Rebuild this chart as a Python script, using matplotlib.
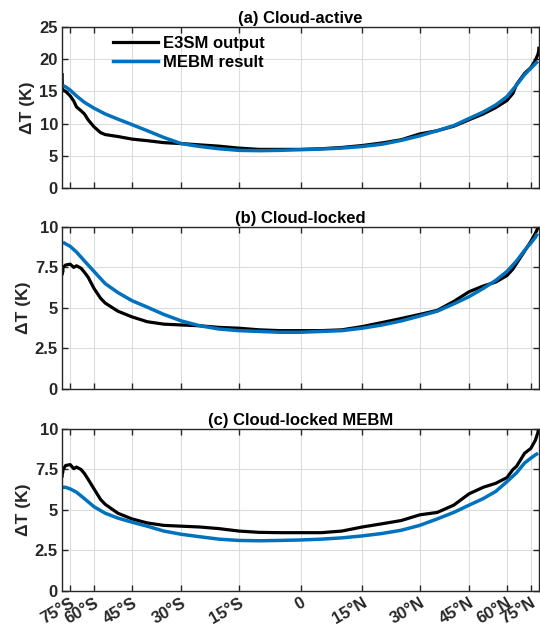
import numpy as np
import matplotlib
matplotlib.use("Agg")
import matplotlib.pyplot as plt

plt.rcParams['font.family'] = ['Liberation Sans', 'DejaVu Sans']
plt.rcParams['font.weight'] = 'bold'
plt.rcParams['font.size'] = 12

# latitudes (deg) of the sampled curves
lat_e3sm = [-89, -88, -86, -85, -80, -75, -72, -70, -67, -65, -63, -60, -57, -55,
            -50, -45, -40, -35, -30, -25, -20, -15, -10, -5, 0, 5, 10, 15, 20, 25,
            30, 35, 40, 45, 50, 55, 60, 63, 65, 70, 75, 80, 85, 88, 89]
lat_mebm = [-82, -80, -75, -70, -65, -60, -55, -50, -45, -40, -35, -30, -25, -20,
            -15, -10, -5, 0, 5, 10, 15, 20, 25, 30, 35, 40, 45, 50, 55, 60, 65, 70,
            75, 80, 82]

# (a) cloud-active
e3sm_a = [17.6, 16.0, 15.3, 15.2, 15.0, 14.3, 13.5, 12.6, 12.0, 11.5, 10.6, 9.5, 8.6, 8.3,
          8.0, 7.6, 7.35, 7.05, 6.9, 6.7, 6.5, 6.2, 6.0, 6.0, 6.0, 6.1, 6.3, 6.6, 7.0, 7.5,
          8.4, 8.9, 9.6, 10.6, 11.5, 12.5, 13.6, 14.7, 16.1, 17.8, 18.7, 19.8, 20.8, 21.4, 21.7]
mebm_a = [15.8, 15.7, 15.2, 14.3, 13.3, 12.4, 11.5, 10.7, 9.85, 8.9, 7.85, 6.9, 6.45, 6.1,
          5.85, 5.8, 5.85, 5.95, 6.05, 6.2, 6.45, 6.8, 7.4, 8.1, 8.9, 9.7, 10.8, 11.8, 12.9,
          14.2, 16.0, 17.6, 18.6, 19.3, 19.5]

# (b) cloud-locked
e3sm_b = [7.1, 7.4, 7.2, 7.5, 7.65, 7.7, 7.5, 7.6, 7.45, 7.2, 6.9, 6.2, 5.6, 5.3,
          4.8, 4.45, 4.15, 4.0, 3.95, 3.9, 3.8, 3.75, 3.65, 3.6, 3.6, 3.6, 3.65, 3.85, 4.1, 4.35,
          4.6, 4.85, 5.4, 6.0, 6.35, 6.6, 7.0, 7.4, 7.75, 8.5, 9.1, 9.6, 9.95, 10.2, 10.4]
mebm_b = [9.0, 8.95, 8.8, 8.45, 7.9, 7.25, 6.5, 5.95, 5.45, 5.05, 4.6, 4.2, 3.9, 3.7,
          3.6, 3.55, 3.5, 3.5, 3.55, 3.6, 3.75, 3.95, 4.2, 4.5, 4.8, 5.25, 5.7, 6.2, 6.7,
          7.25, 7.9, 8.55, 9.0, 9.35, 9.5]

# (c) cloud-locked MEBM
e3sm_c = [7.1, 7.4, 7.3, 7.5, 7.75, 7.8, 7.55, 7.65, 7.5, 7.25, 6.9, 6.3, 5.65, 5.35,
          4.8, 4.45, 4.2, 4.05, 4.0, 3.95, 3.85, 3.7, 3.62, 3.6, 3.6, 3.6, 3.7, 3.95, 4.15, 4.35,
          4.7, 4.85, 5.3, 6.0, 6.4, 6.65, 7.0, 7.5, 7.7, 8.5, 8.8, 9.3, 9.8, 10.2, 10.4]
mebm_c = [6.4, 6.4, 6.3, 6.1, 5.7, 5.2, 4.8, 4.5, 4.25, 4.0, 3.7, 3.5, 3.35, 3.2,
          3.12, 3.1, 3.12, 3.15, 3.2, 3.28, 3.4, 3.55, 3.75, 4.05, 4.45, 4.85, 5.3, 5.7, 6.15,
          6.75, 7.3, 7.9, 8.2, 8.4, 8.45]

tick_lats = [-75, -60, -45, -30, -15, 0, 15, 30, 45, 60, 75]
tick_labels = ['75°S', '60°S', '45°S', '30°S', '15°S', '0',
               '15°N', '30°N', '45°N', '60°N', '75°N']

panels = [
    ('(a) Cloud-active', e3sm_a, mebm_a, 25, [0, 5, 10, 15, 20, 25], ['0', '5', '10', '15', '20', '25']),
    ('(b) Cloud-locked', e3sm_b, mebm_b, 10, [0, 2.5, 5, 7.5, 10], ['0', '2.5', '5', '7.5', '10']),
    ('(c) Cloud-locked MEBM', e3sm_c, mebm_c, 10, [0, 2.5, 5, 7.5, 10], ['0', '2.5', '5', '7.5', '10']),
]

axcol = '#262626'
blue = '#0072BD'

fig = plt.figure(figsize=(5.4, 6.32), dpi=100)
boxes = [(0.115, 0.7025, 0.883, 0.2547),
         (0.115, 0.3845, 0.883, 0.2565),
         (0.115, 0.0649, 0.883, 0.2563)]

xe = np.sin(np.deg2rad(lat_e3sm))
xm = np.sin(np.deg2rad(lat_mebm))

for i, (title, e3, mb, ymax, yt, ytl) in enumerate(panels):
    ax = fig.add_axes(boxes[i])
    ax.plot(xe, e3, color='black', lw=2.3, label='E3SM output')
    ax.plot(xm, mb, color=blue, lw=2.5, label='MEBM result')
    ax.set_xlim(-1, 1)
    ax.set_ylim(0, ymax)
    ax.set_yticks(yt)
    ax.set_yticklabels(ytl)
    ax.set_xticks(np.sin(np.deg2rad(tick_lats)))
    if i == 2:
        ax.set_xticklabels(tick_labels, rotation=30, ha='right', rotation_mode='anchor')
    else:
        ax.set_xticklabels([])
    ax.grid(True, color='#dcdcdc', lw=0.8)
    ax.set_axisbelow(True)
    ax.tick_params(direction='in', top=True, right=True, length=4, width=1,
                   colors=axcol, labelsize=12, pad=3)
    for s in ax.spines.values():
        s.set_color(axcol)
        s.set_linewidth(1)
    ax.set_title(title, fontsize=12, fontweight='bold', pad=3)
    ax.set_ylabel('ΔT (K)', fontsize=12.5, fontweight='bold', color=axcol, labelpad=3)
    if i == 0:
        ax.legend(loc='upper left', bbox_to_anchor=(0.075, 1.04), frameon=False,
                  handlelength=2.7, handletextpad=0.3, labelspacing=0.25,
                  prop={'weight': 'bold', 'size': 12})

fig.savefig('out.png', dpi=100)
